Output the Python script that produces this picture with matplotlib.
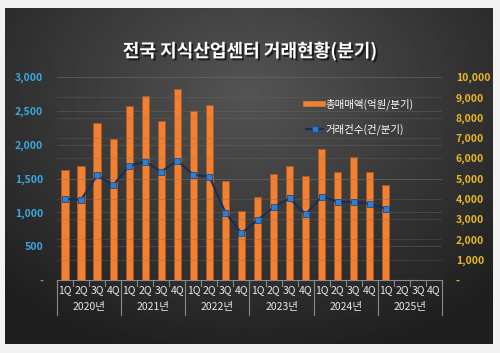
import numpy as np
import matplotlib
matplotlib.use('Agg')
import matplotlib.pyplot as plt
from matplotlib.lines import Line2D
from matplotlib import patheffects as pe
from matplotlib.ticker import FuncFormatter, MultipleLocator
import matplotlib.transforms as mtrans

plt.rcParams['font.family'] = ['Noto Sans CJK KR', 'DejaVu Sans']

# 데이터
years = ['2020년', '2021년', '2022년', '2023년', '2024년', '2025년']
quarters = ['1Q', '2Q', '3Q', '4Q']
amount = [1620, 1690, 2320, 2080,
          2570, 2720, 2350, 2830,
          2500, 2580, 1460, 1020,
          1230, 1570, 1680, 1540,
          1930, 1600, 1820, 1600,
          1400, None, None, None]
counts = [4000, 3950, 5150, 4670,
          5620, 5830, 5340, 5870,
          5190, 5090, 3320, 2300,
          2960, 3580, 4030, 3240,
          4110, 3860, 3830, 3750,
          3500, None, None, None]

W, H = 500, 353
fig = plt.figure(figsize=(W / 100, H / 100), dpi=100)
fig.patch.set_facecolor('#f2f2f2')

# 배경 (어두운 그라데이션 패널)
bg = fig.add_axes([5 / W, 1 - 344 / H, 488 / W, 336 / H])
yy, xx = np.mgrid[-1:1:200j, -1:1:300j]
r = np.sqrt((xx * 0.9) ** 2 + ((yy + 0.5) * 0.8) ** 2)
bg.imshow(0.33 - 0.16 * np.clip(r, 0, 1.3), cmap='gray', vmin=0, vmax=1,
          aspect='auto', extent=[0, 1, 0, 1])
bg.set_axis_off()

ax = fig.add_axes([57 / W, 1 - 280 / H, 385 / W, 203 / H])
ax.patch.set_alpha(0)
ax2 = ax.twinx()

n = len(amount)
x = np.arange(n)
amt = np.array([np.nan if v is None else v for v in amount], dtype=float)
cnt = np.array([np.nan if v is None else v for v in counts], dtype=float)

ax.bar(x, np.nan_to_num(amt), width=0.45, color='#f08133', edgecolor='#b8561a',
       linewidth=0.5, zorder=2)
ax2.plot(x, cnt, color='#182e58', lw=1.5, marker='s', ms=3.8,
         mfc='#2f7fd0', mec='#1c4c8c', mew=0.6, zorder=3)

ax.set_xlim(-0.5, n - 0.5)
ax.set_ylim(0, 3000)
ax2.set_ylim(0, 10000)
ax.yaxis.set_major_locator(MultipleLocator(500))
ax2.yaxis.set_major_locator(MultipleLocator(1000))
fmt = FuncFormatter(lambda v, p: '-' if v == 0 else f'{int(v):,}')
ax.yaxis.set_major_formatter(fmt)
ax2.yaxis.set_major_formatter(fmt)

ax.grid(axis='y', color='#6a6a6a', lw=0.5, alpha=0.6, zorder=0)
ax2.grid(axis='y', color='#6a6a6a', lw=0.5, alpha=0.45, zorder=0)
ax.set_axisbelow(True)

for a in (ax, ax2):
    for s in a.spines.values():
        s.set_visible(False)
ax.spines['bottom'].set_visible(True)
ax.spines['bottom'].set_color('#8a8a8a')
ax.spines['bottom'].set_linewidth(0.8)

ax.tick_params(axis='y', length=0, labelsize=7.5, labelcolor='#3aa6dc', pad=10)
ax2.tick_params(axis='y', length=0, labelsize=7.5, labelcolor='#e8b62a', pad=10)
for lab in ax.get_yticklabels() + ax2.get_yticklabels():
    lab.set_fontweight('bold')

ax.set_xticks(x)
ax.set_xticklabels(quarters * len(years), fontsize=7.5, color='#e8e8e8')
ax.tick_params(axis='x', length=0, pad=4)

# 연도 라벨과 구분선
tr = mtrans.blended_transform_factory(ax.transData, ax.transAxes)
for i, yr in enumerate(years):
    ax.text(i * 4 + 1.5, -0.135, yr, transform=tr, ha='center', va='center',
            fontsize=7.5, color='#e8e8e8')
for b in np.arange(-0.5, n, 4):
    ax.plot([b, b], [0, -0.17], transform=tr, color='#8a8a8a', lw=0.8,
            clip_on=False)
for b in np.arange(-0.5, n, 1):
    ax.plot([b, b], [0, -0.03], transform=tr, color='#8a8a8a', lw=0.8,
            clip_on=False)

fig.text(0.5, 1 - 51 / H, '전국 지식산업센터 거래현황(분기)', ha='center', va='center',
         fontsize=13, fontweight='bold', color='white',
         path_effects=[pe.withSimplePatchShadow(offset=(1.5, -1.5),
                                                shadow_rgbFace='black', alpha=0.6)])

handles = [Line2D([0], [0], color='#f08133', lw=4),
           Line2D([0], [0], color='#182e58', lw=1.5, marker='s', ms=3.8,
                  mfc='#2f7fd0', mec='#1c4c8c')]
leg = fig.legend(handles, ['총매매액(억원/분기)', '거래건수(건/분기)'],
                 loc='upper left', bbox_to_anchor=(297 / W, 1 - 89 / H),
                 frameon=False, fontsize=7.5, labelcolor='white',
                 handlelength=1.6, handletextpad=0.2, labelspacing=1.35)

fig.savefig('out.png', dpi=100, facecolor=fig.get_facecolor())
